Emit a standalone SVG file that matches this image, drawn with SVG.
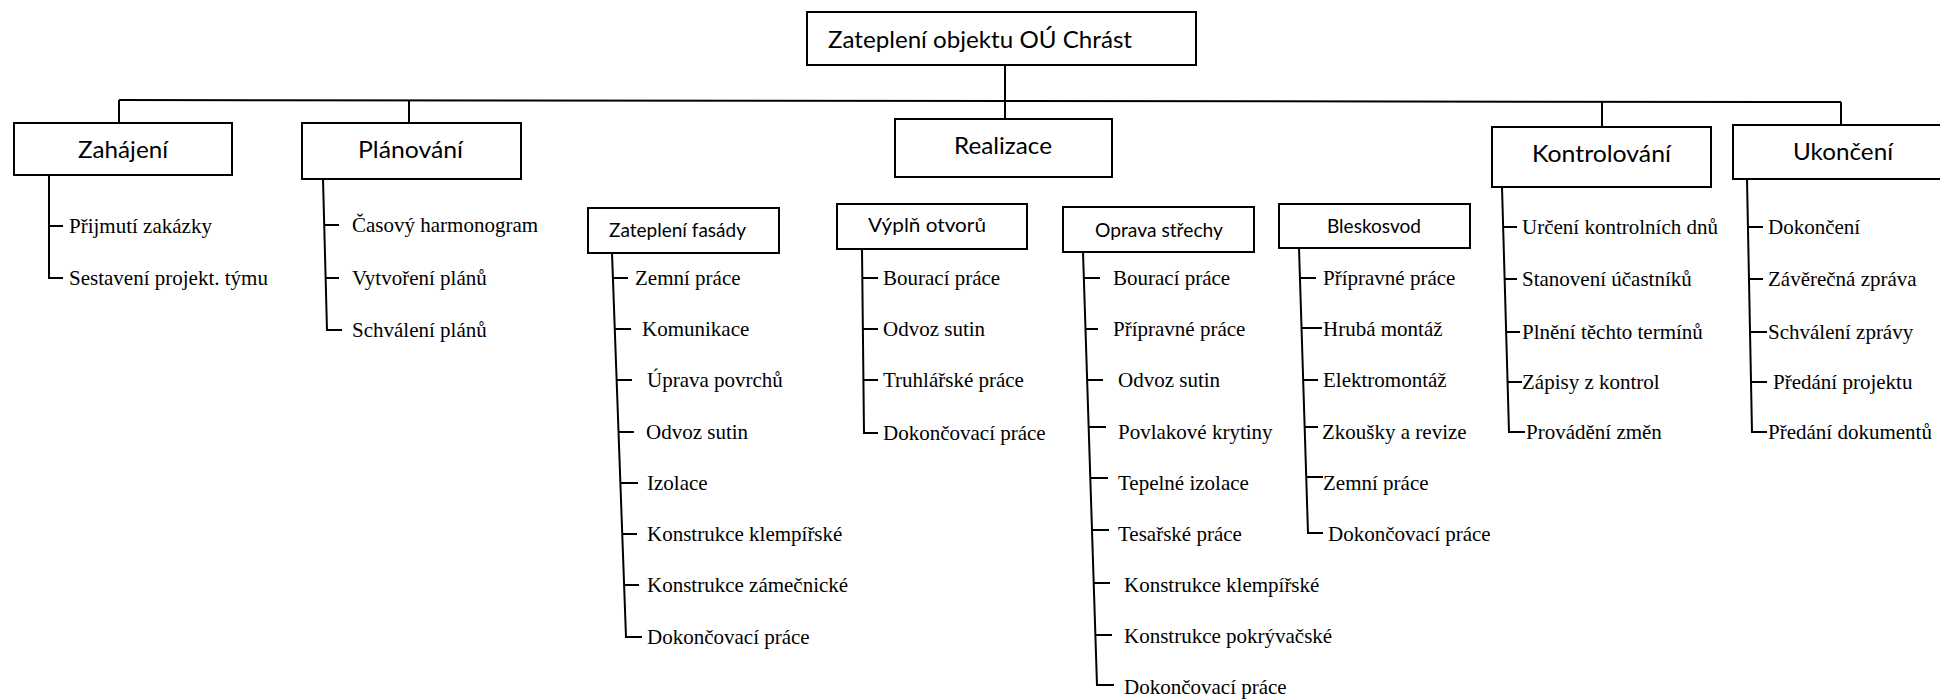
<svg xmlns="http://www.w3.org/2000/svg" width="1940" height="700" viewBox="0 0 1940 700">
<style>
.box{fill:#fff;stroke:#000;stroke-width:2}
.conn line,.conn polyline{stroke:#000;stroke-width:2;fill:none}
.tk{stroke-width:2.5}
.t0{font-family:Lato,"Liberation Sans",sans-serif;font-size:23px;fill:#000}
.t1{font-family:Lato,"Liberation Sans",sans-serif;font-size:23px;fill:#000}
.t2{font-family:Lato,"Liberation Sans",sans-serif;font-size:19px;fill:#000}
.it{font-family:"Liberation Serif","Times New Roman",serif;font-size:21px;fill:#000}
</style>
<rect width="1940" height="700" fill="#fff"/>
<g class="conn" id="connectors">
<line x1="1005" y1="65" x2="1005" y2="119"/>
<line x1="119" y1="100" x2="1841" y2="102"/>
<line x1="119" y1="100" x2="119" y2="123"/>
<line x1="409" y1="100" x2="409" y2="123"/>
<line x1="1602" y1="102" x2="1602" y2="127"/>
<line x1="1841" y1="102" x2="1841" y2="125"/>
<!-- Zahajeni -->
<polyline points="49,175 49,278 63,278"/>
<line class="tk" x1="49" y1="226" x2="63" y2="226"/>
<!-- Planovani -->
<polyline points="323,179 327,330 342,330"/>
<line x1="324" y1="225" x2="339" y2="225"/>
<line x1="325" y1="278" x2="339" y2="278"/>
<!-- Zatepleni fasady -->
<polyline points="612,253 626,637 642,637"/>
<line class="tk" x1="613" y1="278" x2="628" y2="278"/>
<line x1="615" y1="329" x2="631" y2="329"/>
<line x1="617" y1="380" x2="632" y2="380"/>
<line x1="619" y1="432" x2="634" y2="432"/>
<line x1="621" y1="483" x2="638" y2="483"/>
<line x1="622" y1="534" x2="637" y2="534"/>
<line x1="624" y1="585" x2="639" y2="585"/>
<!-- Vyplň otvoru -->
<polyline points="862,249 864,433 878,433"/>
<line x1="862" y1="278" x2="878" y2="278"/>
<line x1="863" y1="329" x2="878" y2="329"/>
<line x1="863" y1="380" x2="878" y2="380"/>
<!-- Oprava strechy -->
<polyline points="1083,252 1097,685 1114,685"/>
<line x1="1084" y1="278" x2="1100" y2="278"/>
<line x1="1085" y1="329" x2="1098" y2="329"/>
<line x1="1087" y1="380" x2="1103" y2="380"/>
<line x1="1089" y1="427" x2="1106" y2="427"/>
<line x1="1090" y1="478" x2="1108" y2="478"/>
<line x1="1092" y1="530" x2="1109" y2="530"/>
<line x1="1093" y1="583" x2="1110" y2="583"/>
<line x1="1095" y1="635" x2="1112" y2="635"/>
<!-- Bleskosvod -->
<polyline points="1299,248 1308,533 1323,533"/>
<line x1="1300" y1="278" x2="1316" y2="278"/>
<line class="tk" x1="1302" y1="328" x2="1322" y2="328"/>
<line class="tk" x1="1303" y1="380" x2="1318" y2="380"/>
<line x1="1305" y1="427" x2="1318" y2="427"/>
<line x1="1307" y1="477" x2="1323" y2="477"/>
<!-- Kontrolovani -->
<polyline points="1502,187 1509,432 1525,432"/>
<line x1="1503" y1="227" x2="1517" y2="227"/>
<line class="tk" x1="1504" y1="279" x2="1517" y2="279"/>
<line x1="1506" y1="332" x2="1520" y2="332"/>
<line x1="1507" y1="382" x2="1522" y2="382"/>
<!-- Ukonceni -->
<polyline points="1747,179 1752,432 1767,432"/>
<line x1="1748" y1="227" x2="1763" y2="227"/>
<line class="tk" x1="1749" y1="279" x2="1763" y2="279"/>
<line x1="1750" y1="332" x2="1767" y2="332"/>
<line x1="1751" y1="382" x2="1767" y2="382"/>
</g>
<g id="root">
<rect class="box" x="807" y="12" width="389" height="53"/>
<text class="t0" x="828" y="48" textLength="304" lengthAdjust="spacingAndGlyphs">Zateplení objektu OÚ Chrást</text>
</g>
<g id="zahajeni">
<rect class="box" x="14" y="123" width="218" height="52"/>
<text class="t1" x="78" y="158" textLength="90" lengthAdjust="spacingAndGlyphs">Zahájení</text>
<text class="it" x="69" y="233">Přijmutí zakázky</text>
<text class="it" x="69" y="285">Sestavení projekt. týmu</text>
</g>
<g id="planovani">
<rect class="box" x="302" y="123" width="219" height="56"/>
<text class="t1" x="358" y="158" textLength="105" lengthAdjust="spacingAndGlyphs">Plánování</text>
<text class="it" x="352" y="232">Časový harmonogram</text>
<text class="it" x="352" y="285">Vytvoření plánů</text>
<text class="it" x="352" y="337">Schválení plánů</text>
</g>
<g id="realizace">
<rect class="box" x="895" y="119" width="217" height="58"/>
<text class="t1" x="954" y="154" textLength="98" lengthAdjust="spacingAndGlyphs">Realizace</text>
</g>
<g id="zatepleni-fasady">
<rect class="box" x="588" y="208" width="191" height="45"/>
<text class="t2" x="609" y="237" textLength="137" lengthAdjust="spacingAndGlyphs">Zateplení fasády</text>
<text class="it" x="635" y="285">Zemní práce</text>
<text class="it" x="642" y="336">Komunikace</text>
<text class="it" x="647" y="387">Úprava povrchů</text>
<text class="it" x="646" y="439">Odvoz sutin</text>
<text class="it" x="647" y="490">Izolace</text>
<text class="it" x="647" y="541">Konstrukce klempířské</text>
<text class="it" x="647" y="592">Konstrukce zámečnické</text>
<text class="it" x="647" y="644">Dokončovací práce</text>
</g>
<g id="vypln-otvoru">
<rect class="box" x="837" y="204" width="190" height="45"/>
<text class="t2" x="868" y="232" textLength="118" lengthAdjust="spacingAndGlyphs">Výplň otvorů</text>
<text class="it" x="883" y="285">Bourací práce</text>
<text class="it" x="883" y="336">Odvoz sutin</text>
<text class="it" x="883" y="387">Truhlářské práce</text>
<text class="it" x="883" y="440">Dokončovací práce</text>
</g>
<g id="oprava-strechy">
<rect class="box" x="1063" y="207" width="191" height="45"/>
<text class="t2" x="1095" y="237" textLength="128" lengthAdjust="spacingAndGlyphs">Oprava střechy</text>
<text class="it" x="1113" y="285">Bourací práce</text>
<text class="it" x="1113" y="336">Přípravné práce</text>
<text class="it" x="1118" y="387">Odvoz sutin</text>
<text class="it" x="1118" y="439">Povlakové krytiny</text>
<text class="it" x="1118" y="490">Tepelné izolace</text>
<text class="it" x="1118" y="541">Tesařské práce</text>
<text class="it" x="1124" y="592">Konstrukce klempířské</text>
<text class="it" x="1124" y="643">Konstrukce pokrývačské</text>
<text class="it" x="1124" y="694">Dokončovací práce</text>
</g>
<g id="bleskosvod">
<rect class="box" x="1279" y="204" width="191" height="44"/>
<text class="t2" x="1327" y="233" textLength="94" lengthAdjust="spacingAndGlyphs">Bleskosvod</text>
<text class="it" x="1323" y="285">Přípravné práce</text>
<text class="it" x="1323" y="336">Hrubá montáž</text>
<text class="it" x="1323" y="387">Elektromontáž</text>
<text class="it" x="1322" y="439">Zkoušky a revize</text>
<text class="it" x="1323" y="490">Zemní práce</text>
<text class="it" x="1328" y="541">Dokončovací práce</text>
</g>
<g id="kontrolovani">
<rect class="box" x="1492" y="127" width="219" height="60"/>
<text class="t1" x="1532" y="162" textLength="139" lengthAdjust="spacingAndGlyphs">Kontrolování</text>
<text class="it" x="1522" y="234">Určení kontrolních dnů</text>
<text class="it" x="1522" y="286">Stanovení účastníků</text>
<text class="it" x="1522" y="339">Plnění těchto termínů</text>
<text class="it" x="1522" y="389">Zápisy z kontrol</text>
<text class="it" x="1526" y="439">Provádění změn</text>
</g>
<g id="ukonceni">
<rect class="box" x="1733" y="125" width="220" height="54"/>
<text class="t1" x="1793" y="160" textLength="100" lengthAdjust="spacingAndGlyphs">Ukončení</text>
<text class="it" x="1768" y="234">Dokončení</text>
<text class="it" x="1768" y="286">Závěrečná zpráva</text>
<text class="it" x="1768" y="339">Schválení zprávy</text>
<text class="it" x="1773" y="389">Předání projektu</text>
<text class="it" x="1768" y="439">Předání dokumentů</text>
</g>
</svg>
